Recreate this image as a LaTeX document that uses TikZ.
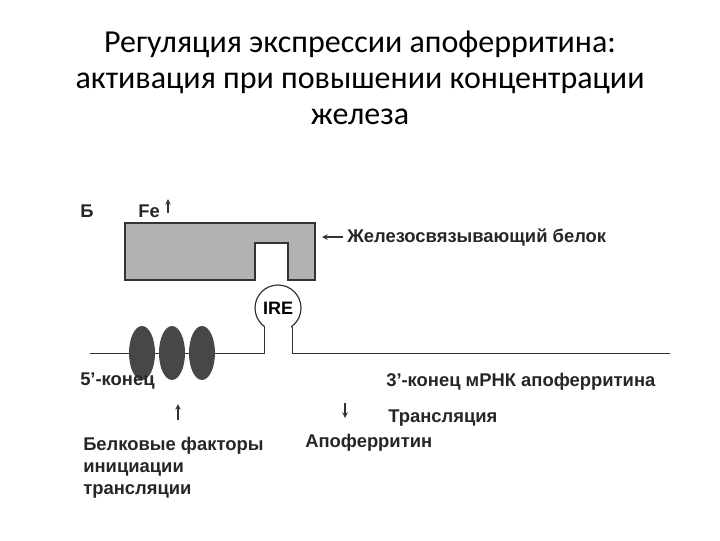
\documentclass[tikz,border=0pt]{standalone}
\usepackage{fontspec}
\setmainfont{Liberation Sans}
\newfontfamily\titlefont{Carlito}
\begin{document}
\begin{tikzpicture}[x=0.75pt,y=-0.75pt,
  lbl/.style={anchor=west,inner sep=0,font=\fontsize{13.8}{15}\selectfont\bfseries,text=black!85},
  ttl/.style={font=\titlefont\fontsize{24}{27}\selectfont,align=center},
  thinline/.style={draw=black!80,line width=0.9pt}]
\useasboundingbox (0,0) rectangle (720,540);
\node[ttl] (title) at (360,78) {Регуляция экспрессии апоферритина:\\активация при повышении концентрации\\железа};
\node[lbl] (b) at (80,211) {Б};
\node[lbl] (fe) at (138,211) {Fe};
\coordinate (fa) at (168,213);
\coordinate (fb) at (168,199);
\draw[-stealth,thinline] (fa) -- (fb);
\draw[thinline,fill=black!30] (125,223) -- (315,223) -- (315,280) -- (288,280) -- (288,243) -- (255,243) -- (255,280) -- (125,280) -- cycle;
\coordinate (pa) at (343,237);
\coordinate (pb) at (322,237);
\draw[-stealth,thinline] (pa) -- (pb);
\node[lbl] (prot) at (347,237) {Железосвязывающий белок};
\coordinate (ls) at (90,353);
\coordinate (le) at (670,353);
\draw[thinline,line width=0.7pt] (ls) -- (264,353) -- (264,327);
\draw[thinline,line width=0.7pt] (292,327) -- (292,353) -- (le);
\draw[thinline,fill=white] (278,308) circle (23);
\fill[white] (265,320) rectangle (291,352);
\node[font=\fontsize{13.5}{14}\selectfont\bfseries] (ire) at (278,308) {IRE};
\foreach \x in {142,172,202}{\fill[black!72] (\x,353) ellipse (13 and 27);}
\node[lbl] (five) at (80,381) {5'-конец};
\node[lbl] (three) at (386,382) {3'-конец мРНК апоферритина};
\coordinate (ua) at (178,420);
\coordinate (ub) at (178,404);
\draw[-stealth,thinline] (ua) -- (ub);
\coordinate (da) at (345,403);
\coordinate (db) at (345,418);
\draw[-stealth,thinline] (da) -- (db);
\node[lbl] (tr) at (388,418) {Трансляция};
\node[lbl] (apo) at (305,443) {Апоферритин};
\node[lbl,align=left,font=\fontsize{13.8}{16.5}\selectfont\bfseries] (fac) at (83,468) {Белковые факторы\\инициации\\трансляции};
\end{tikzpicture}
\end{document}
